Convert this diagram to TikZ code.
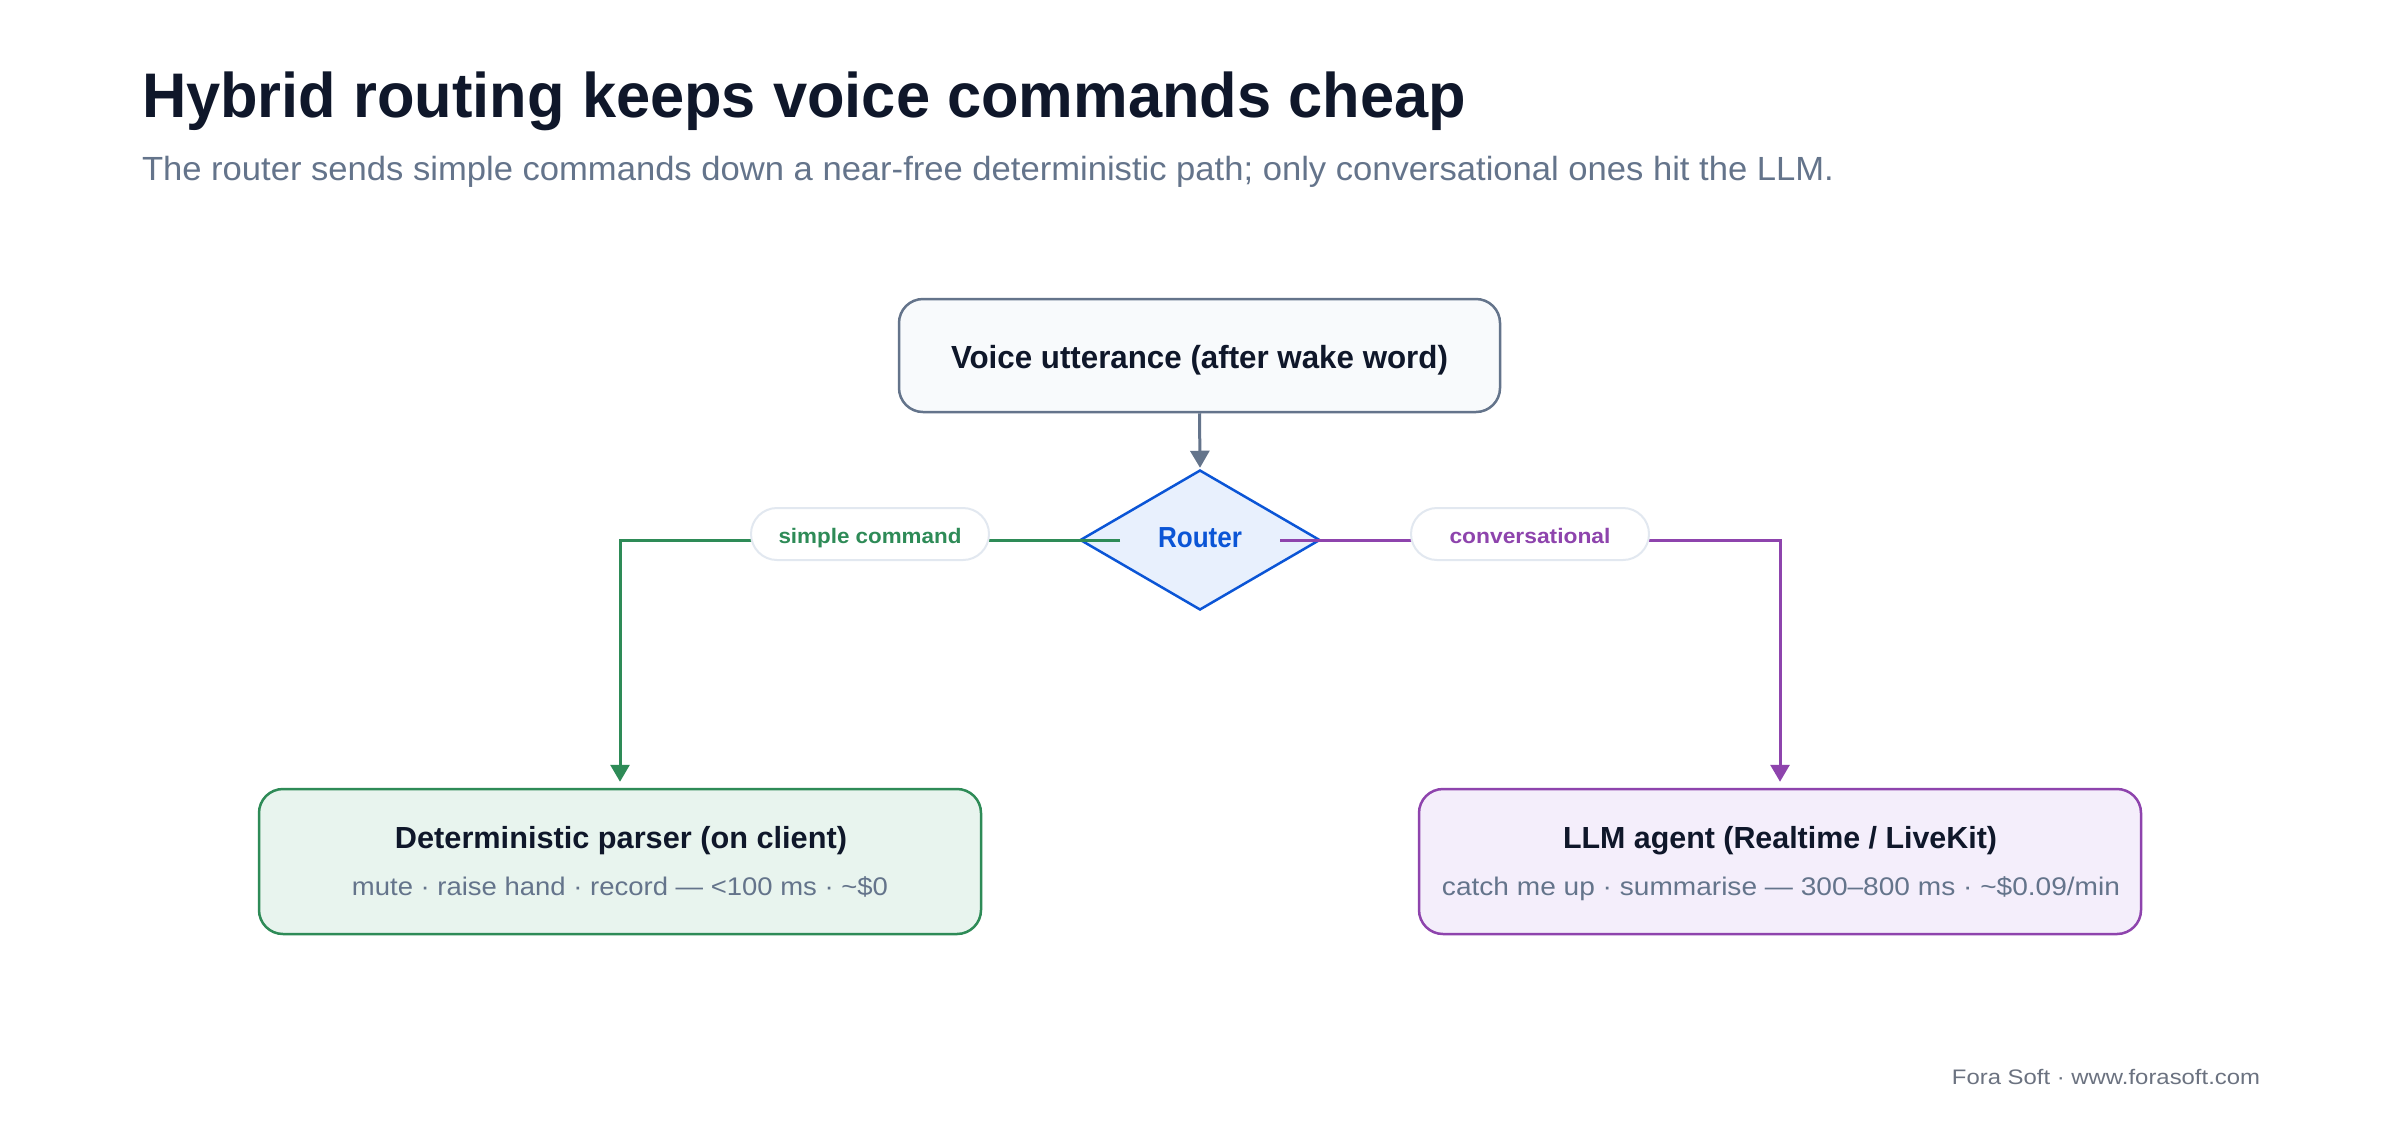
\documentclass[tikz,border=0pt]{standalone}
\usepackage{fontspec}
\setmainfont{Liberation Sans}
\usetikzlibrary{shapes.geometric,arrows.meta,calc}
\definecolor{ink}{HTML}{0F172A}
\definecolor{slate}{HTML}{64748B}
\definecolor{footgray}{HTML}{6B7280}
\definecolor{topfill}{HTML}{F8FAFC}
\definecolor{rblue}{HTML}{0B55D6}
\definecolor{rfill}{HTML}{E8F0FD}
\definecolor{sgreen}{HTML}{2E8B57}
\definecolor{gfill}{HTML}{E8F4EE}
\definecolor{vpurple}{HTML}{8E44AD}
\definecolor{pfill}{HTML}{F4EEFB}
\definecolor{pillline}{HTML}{E2E8F0}
\newcommand{\fitw}[3]{\resizebox{#1pt}{\height}{\fontsize{#2}{#2}\selectfont #3}}
\begin{document}
\begin{tikzpicture}[x=1pt,y=-1pt,
  txt/.style={inner sep=0pt,outer sep=0pt},
  boxbase/.style={draw,rounded corners=24pt,line width=2.5pt,inner sep=0pt},
  pill/.style={draw=pillline,fill=white,line width=2pt,rounded corners=26pt,
     minimum width=238pt,minimum height=52pt,inner sep=0pt,text height=18pt,text depth=0pt},
  edge/.style={line width=3pt},
  tip/.style={-{Triangle[length=17pt,width=19pt]}}
]
\fill[white] (0,0) rectangle (2400,1120);
\useasboundingbox (0,0) rectangle (2400,1120);

% titles
\node[txt,anchor=base west,text=ink] (title) at (142,117)
  {\fitw{1324}{63}{\bfseries Hybrid routing keeps voice commands cheap}};
\node[txt,anchor=base west,text=slate] (subtitle) at (142,180)
  {\fitw{1692}{33.5}{The router sends simple commands down a near-free deterministic path; only conversational ones hit the LLM.}};

% top box
\node[boxbase,draw=slate,fill=topfill,minimum width=601pt,minimum height=113pt,
  text=ink,text height=25pt,text depth=0pt] (utt) at (1199.5,355.5)
  {\fitw{497}{32}{\bfseries Voice utterance (after wake word)}};

% router
\node[diamond,draw=rblue,fill=rfill,line width=2.5pt,minimum width=240pt,minimum height=140pt,
  inner sep=0pt,aspect=1.714,text=rblue,text height=14pt,text depth=0pt] (router) at (1200,540)
  {\fitw{84}{29}{\bfseries Router}};

% bottom boxes
\node[boxbase,draw=sgreen,fill=gfill,minimum width=722pt,minimum height=145pt] (det) at (620,861.5) {};
\node[txt,anchor=base,text=ink] (detT) at (621,848)
  {\fitw{452}{30.5}{\bfseries Deterministic parser (on client)}};
\node[txt,anchor=base,text=slate] (detS) at (620,895)
  {\fitw{536}{25.5}{mute · raise hand · record — <100 ms · \char"007E\$0}};

\node[boxbase,draw=vpurple,fill=pfill,minimum width=722pt,minimum height=145pt] (llm) at (1780,861.5) {};
\node[txt,anchor=base,text=ink] (llmT) at (1780,848)
  {\fitw{434}{30.5}{\bfseries LLM agent (Realtime / LiveKit)}};
\node[txt,anchor=base,text=slate] (llmS) at (1781,895)
  {\fitw{678}{25.5}{catch me up · summarise — 300–800 ms · \char"007E\$0.09/min}};

% connectors
\draw[edge,slate,tip] (utt.south) -- ([yshift=1pt]router.north);
\draw[edge,sgreen,tip] ([xshift=-80pt]router.center) -| ([yshift=6pt]det.north)
  node[pill,pos=0.25,yshift=6pt,text=sgreen] (lblS) {\fitw{183}{21}{\bfseries simple command}};
\draw[edge,vpurple,tip] ([xshift=80pt]router.center) -| ([yshift=6pt]llm.north)
  node[pill,pos=0.25,yshift=6pt,text=vpurple] (lblC) {\fitw{161}{21}{\bfseries conversational}};

% footer
\node[txt,anchor=base east,text=footgray] (foot) at (2260,1084)
  {\fitw{308}{21}{Fora Soft · www.forasoft.com}};
\end{tikzpicture}
\end{document}
